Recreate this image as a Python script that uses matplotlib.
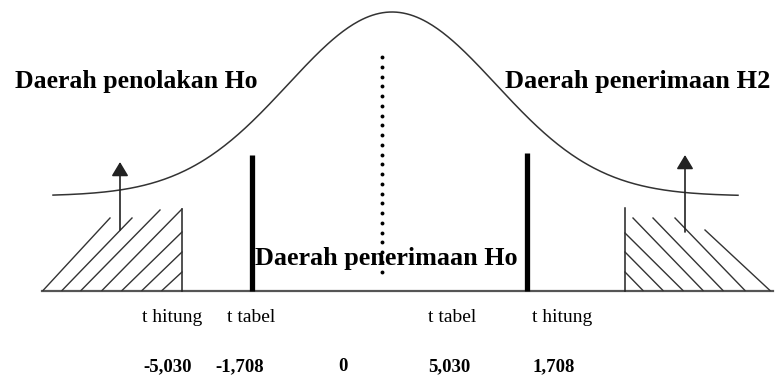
import numpy as np
import matplotlib
matplotlib.use("Agg")
import matplotlib.pyplot as plt

# --- values (diagram units = pixels of the original) ---
curve_left, curve_right = 53, 738
curve_center = 392
curve_top = 12
curve_base = 196
curve_spread = 104

baseline_y = 290.5
baseline_ends = [42, 773]

tabel_x = [252, 527]
tabel_top = [155, 153]

center_x = 382
center_span = [57, 281]
center_dot_step = 9.75

left_wall_x, left_wall_top = 182, 209
left_hatch_bottom_x = [43, 62, 81, 102, 122, 142, 162]
left_hatch_top_x = [110, 132, 160, 182, 182, 182, 182]
left_hatch_top_y = [218, 218, 210, 209, 232, 252, 272]

right_wall_x, right_wall_top = 625, 208
right_hatch_bottom_x = [643, 663, 683, 703, 723, 745, 770]
right_hatch_top_x = [625, 625, 625, 633, 653, 675, 705]
right_hatch_top_y = [272, 252, 233, 218, 218, 218, 230]

arrow_x = [120, 685]
arrow_from = [230, 232]
arrow_to = [162, 155]

region_titles = ["Daerah penolakan Ho", "Daerah penerimaan H2", "Daerah penerimaan Ho"]
region_title_x = [15, 505, 255]
region_title_y = [88, 88, 265]
region_title_size = [18.5, 19.0, 18.8]

t_names = ["t hitung", "t tabel", "t tabel", "t hitung"]
t_names_x = [142, 227, 428, 532]
t_values = ["-5,030", "-1,708", "0", "5,030", "1,708"]
t_values_x = [143, 215, 338, 428, 533]
names_y, values_y = 322, 371

fig = plt.figure(figsize=(7.76, 3.76), dpi=100)
ax = fig.add_axes([0, 0, 1, 1])
ax.set_xlim(0, 776)
ax.set_ylim(376, 0)
ax.axis("off")

# bell curve
xs = np.linspace(curve_left, curve_right, 400)
ys = curve_base - (curve_base - curve_top) * np.exp(-(xs - curve_center) ** 2 / (2 * curve_spread ** 2))
ax.plot(xs, ys, color="#333333", lw=1.1)

# base line
ax.plot(baseline_ends, [baseline_y, baseline_y], color="#555555", lw=1.6)

# t tabel bars
for x, top in zip(tabel_x, tabel_top):
    ax.plot([x, x], [top, baseline_y], color="black", lw=3.8, solid_capstyle="butt")

# dotted centre line
dots_y = np.arange(center_span[0], center_span[1], center_dot_step)
ax.plot(np.full_like(dots_y, center_x), dots_y, ls="none", marker="o",
        markersize=2.8, color="black", markeredgewidth=0)

# hatched areas
ax.plot([left_wall_x, left_wall_x], [left_wall_top, baseline_y], color="#222222", lw=1.1)
for xb, xt, yt in zip(left_hatch_bottom_x, left_hatch_top_x, left_hatch_top_y):
    ax.plot([xb, xt], [baseline_y, yt], color="#333333", lw=1.0)
ax.plot([right_wall_x, right_wall_x], [right_wall_top, baseline_y], color="#222222", lw=1.1)
for xb, xt, yt in zip(right_hatch_bottom_x, right_hatch_top_x, right_hatch_top_y):
    ax.plot([xb, xt], [baseline_y, yt], color="#333333", lw=1.0)

# arrows
for x, y0, y1 in zip(arrow_x, arrow_from, arrow_to):
    ax.annotate("", xy=(x, y1), xytext=(x, y0),
                arrowprops=dict(arrowstyle="-|>,head_length=0.5,head_width=0.3",
                                color="#222222", lw=1.2, mutation_scale=17,
                                shrinkA=0, shrinkB=0))

serif = "Liberation Serif"
for txt, x, y, fs in zip(region_titles, region_title_x, region_title_y, region_title_size):
    ax.text(x, y, txt, family=serif, fontweight="bold", fontsize=fs,
            ha="left", va="baseline", color="black")
for txt, x in zip(t_names, t_names_x):
    ax.text(x, names_y, txt, family=serif, fontsize=14, ha="left", va="baseline")
for txt, x in zip(t_values, t_values_x):
    ax.text(x, values_y, txt, family=serif, fontweight="bold", fontsize=13.5,
            ha="left", va="baseline")

plt.savefig("out.png", dpi=100)
plt.close()
